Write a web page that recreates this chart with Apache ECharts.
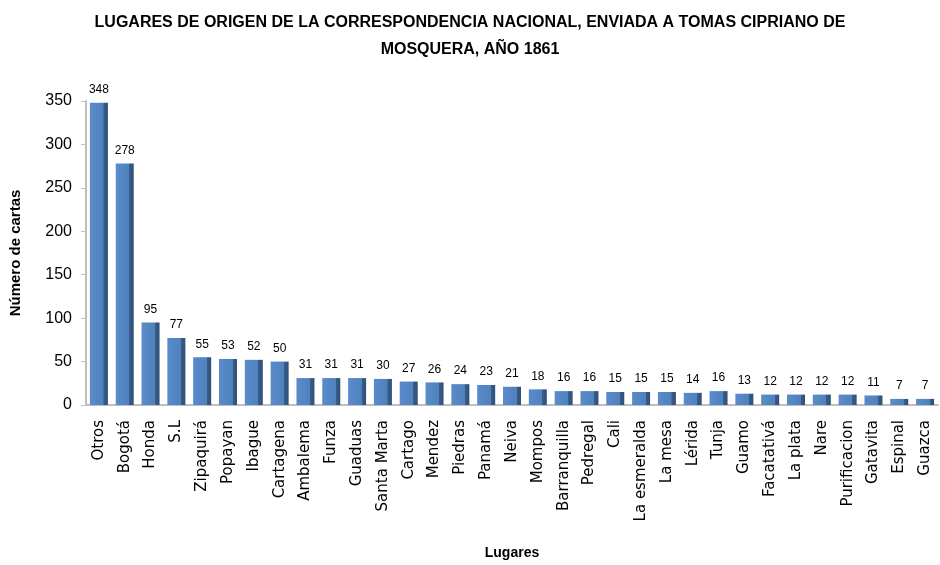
<!DOCTYPE html>
<html>
<head>
<meta charset="utf-8">
<script src="https://cdn.jsdelivr.net/npm/echarts@6/dist/echarts.min.js"></script>
<style>
  html, body { margin: 0; padding: 0; background: #fff; }
  #main { width: 940px; height: 565px; }
</style>
</head>
<body>
<div id="main"></div>
<script>
// datos
const lugares = ['Otros', 'Bogotá', 'Honda', 'S.L', 'Zipaquirá', 'Popayan', 'Ibague', 'Cartagena',
  'Ambalema', 'Funza', 'Guaduas', 'Santa Marta', 'Cartago', 'Mendez', 'Piedras', 'Panamá', 'Neiva',
  'Mompos', 'Barranquilla', 'Pedregal', 'Cali', 'La esmeralda', 'La mesa', 'Lérida', 'Tunja', 'Guamo',
  'Facatativá', 'La plata', 'Nare', 'Purificacion', 'Gatavita', 'Espinal', 'Guazca']
const cartas = [348, 278, 95, 77, 55, 53, 52, 50, 31, 31, 31, 30, 27, 26, 24, 23, 21,
  18, 16, 16, 15, 15, 15, 14, 16, 13, 12, 12, 12, 12, 11, 7, 7]
const yTicks = [0, 50, 100, 150, 200, 250, 300, 350]

let chart = echarts.init(document.getElementById('main'))
chart.setOption({
  backgroundColor: '#fff',
  title: {
    text: 'LUGARES DE ORIGEN DE LA CORRESPONDENCIA NACIONAL, ENVIADA A TOMAS CIPRIANO DE\nMOSQUERA, AÑO 1861',
    left: 'center',
    top: 4,
    textStyle: {
      fontFamily: 'Liberation Sans, sans-serif',
      fontWeight: 'bold',
      fontSize: 16,
      lineHeight: 27,
      color: '#000'
    }
  },
  grid: {
    left: 82,
    right: 2,
    top: 101,
    bottom: 159
  },
  xAxis: {
    type: 'category',
    data: lugares,
    name: 'Lugares',
    nameLocation: 'middle',
    nameGap: 141,
    nameTextStyle: {
      fontFamily: 'Liberation Sans, sans-serif',
      fontWeight: 'bold',
      fontSize: 14,
      color: '#000'
    },
    axisLine: { lineStyle: { color: '#bfbfbf', width: 2 } },
    axisTick: { show: false },
    axisLabel: {
      interval: 0,
      rotate: 90,
      margin: 15,
      fontFamily: 'DejaVu Sans, sans-serif',
      fontSize: 15,
      color: '#000'
    }
  },
  yAxis: {
    type: 'value',
    min: 0,
    max: 350,
    interval: 50,
    name: 'Número de cartas',
    nameLocation: 'middle',
    nameGap: 63,
    nameRotate: 90,
    nameTextStyle: {
      fontFamily: 'Liberation Sans, sans-serif',
      fontWeight: 'bold',
      fontSize: 15,
      color: '#000'
    },
    axisLine: { show: true, lineStyle: { color: '#bfbfbf', width: 2 } },
    axisTick: { show: true, length: 5, lineStyle: { color: '#bfbfbf' } },
    splitLine: { show: false },
    axisLabel: {
      margin: 14,
      fontFamily: 'Liberation Sans, sans-serif',
      fontSize: 16,
      color: '#000',
      formatter: v => yTicks.includes(v) ? String(v) : ''
    }
  },
  series: [{
    type: 'bar',
    data: cartas,
    barWidth: 18,
    itemStyle: {
      color: new echarts.graphic.LinearGradient(0, 0, 1, 0, [
        { offset: 0, color: '#5a8ccb' },
        { offset: 0.75, color: '#4f81bd' },
        { offset: 0.76, color: '#385d8a' },
        { offset: 1, color: '#2f4f77' }
      ])
    },
    label: {
      show: true,
      position: 'top',
      distance: 7,
      fontFamily: 'Liberation Sans, sans-serif',
      fontSize: 12,
      color: '#000'
    }
  }]
})
</script>
</body>
</html>
